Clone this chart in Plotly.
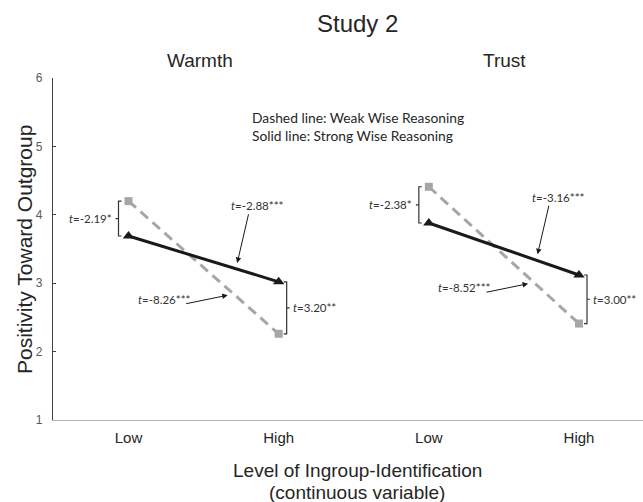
import plotly.graph_objects as go

# ---------------- data ----------------
panels = ["Warmth", "Trust"]
levels = ["Low", "High"]
weak_values = {"Warmth": [4.20, 2.26], "Trust": [4.41, 2.41]}     # dashed: weak wise reasoning
strong_values = {"Warmth": [3.69, 3.02], "Trust": [3.88, 3.12]}   # solid: strong wise reasoning
low_diff_labels = ["-2.19*", "-2.38*"]
high_diff_labels = ["3.20**", "3.00**"]
strong_slope_labels = ["-2.88***", "-3.16***"]
weak_slope_labels = ["-8.26***", "-8.52***"]
y_ticks = [1, 2, 3, 4, 5, 6]

# ---------------- layout constants ----------------
W, H = 643, 502
ML, MR, MT, MB = 53, 0, 78, 82
PW, PH = W - ML - MR, H - MT - MB
ARIAL = "Arial, Liberation Sans, sans-serif"
CAL = "Lato, Carlito, Calibri, sans-serif"

def pxx(x):
    return (x - ML) / PW

def pxy(y):
    return (H - MB - y) / PH

fig = go.Figure()
annotations = []
shapes = []

tick_vals, tick_text = [], []
for i, p in enumerate(panels):
    xs = [2 * i, 2 * i + 1]
    tick_vals += xs
    tick_text += levels
    fig.add_trace(go.Scatter(
        x=xs, y=weak_values[p], mode="lines+markers",
        line=dict(color="#a6a6a6", width=3, dash="10px,6px"),
        marker=dict(symbol="square", size=8, color="#a6a6a6"),
        hoverinfo="skip"))
    fig.add_trace(go.Scatter(
        x=xs, y=strong_values[p], mode="lines+markers",
        line=dict(color="#1a1a1a", width=3),
        marker=dict(symbol="triangle-up", size=10, color="#1a1a1a"),
        hoverinfo="skip"))

    # brackets at Low (difference between lines)
    wl, sl = weak_values[p][0], strong_values[p][0]
    mid = (wl + sl) / 2
    shapes.append(dict(type="path", xref="x", yref="y", xsizemode="pixel", xanchor=xs[0],
                       path=f"M -7,{wl} L -10,{wl} L -10,{sl} L -7,{sl} M -10,{mid} L -13,{mid}",
                       line=dict(color="#333333", width=1.2)))
    annotations.append(dict(x=xs[0], y=mid, xref="x", yref="y", xanchor="right", yanchor="middle",
                            xshift=-15, showarrow=False,
                            text=f"<i>t</i>={low_diff_labels[i]}",
                            font=dict(family=CAL, size=11.5, color="#333333")))
    # brackets at High
    wh, sh = weak_values[p][1], strong_values[p][1]
    mid = (wh + sh) / 2
    shapes.append(dict(type="path", xref="x", yref="y", xsizemode="pixel", xanchor=xs[1],
                       path=f"M 5,{sh} L 8,{sh} L 8,{wh} L 5,{wh} M 8,{mid} L 11,{mid}",
                       line=dict(color="#333333", width=1.2)))
    annotations.append(dict(x=xs[1], y=mid, xref="x", yref="y", xanchor="left", yanchor="middle",
                            xshift=12, showarrow=False,
                            text=f"<i>t</i>={high_diff_labels[i]}",
                            font=dict(family=CAL, size=11.5, color="#333333")))

    # slope arrows
    for vals, f, ax, ay, sx, sy, lab in [
        (strong_values[p], 0.715, 13, -56, 22, 63, strong_slope_labels[i]),
        (weak_values[p], 0.70, -49, 10, -69, -5, weak_slope_labels[i]),
    ]:
        yv = vals[0] + f * (vals[1] - vals[0])
        xv = xs[0] + f
        annotations.append(dict(x=xv, y=yv, xref="x", yref="y", text="", showarrow=True,
                                ax=ax, ay=ay, arrowhead=2, arrowsize=1.1, arrowwidth=1,
                                arrowcolor="#1a1a1a", standoff=6))
        annotations.append(dict(x=xv, y=yv, xref="x", yref="y", xshift=sx, yshift=sy,
                                xanchor="center", yanchor="middle",
                                showarrow=False, text=f"<i>t</i>={lab}",
                                font=dict(family=CAL, size=11.5, color="#333333")))

def txt(x, y, text, size, family=ARIAL, xanchor="center", angle=0):
    return dict(x=pxx(x), y=pxy(y), xref="paper", yref="paper", text=text, showarrow=False,
                xanchor=xanchor, yanchor="middle", textangle=angle,
                font=dict(family=family, size=size, color="#262626"))

annotations += [
    txt(357, 24, "Study 2", 24),
    txt(200, 60, panels[0], 19),
    txt(504, 60, panels[1], 19),
    txt(250, 117, "Dashed line: Weak Wise Reasoning", 13.8, CAL, "left"),
    txt(250, 135, "Solid line: Strong Wise Reasoning", 13.8, CAL, "left"),
    txt(357, 470, "Level of Ingroup-Identification", 19),
    txt(357, 492, "(continuous variable)", 19),
    txt(24, 250, "Positivity Toward Outgroup", 21, angle=-90),
]

x0 = -75.5 / 150.17
x1 = (W - ML - MR - 75.5) / 150.17
fig.update_layout(
    width=W, height=H, margin=dict(l=ML, r=MR, t=MT, b=MB),
    plot_bgcolor="white", paper_bgcolor="white", showlegend=False,
    annotations=annotations, shapes=shapes,
    xaxis=dict(range=[x0, x1], tickvals=tick_vals, ticktext=tick_text, showgrid=False,
               zeroline=False, showline=True, linecolor="#b3b3b3", linewidth=1.3, ticks="",
               ticklabelstandoff=4, tickfont=dict(family=ARIAL, size=15, color="#262626")),
    yaxis=dict(range=[1, 6], tickvals=y_ticks, showgrid=False, zeroline=False, showline=True,
               linecolor="#404040", linewidth=1.3, ticks="inside", ticklen=3, tickcolor="#404040",
               ticklabelstandoff=7, tickfont=dict(family=ARIAL, size=12, color="#595959")),
)

fig.write_html("out.html", config={"displayModeBar": False},
               post_script="document.body.style.margin='0';")
